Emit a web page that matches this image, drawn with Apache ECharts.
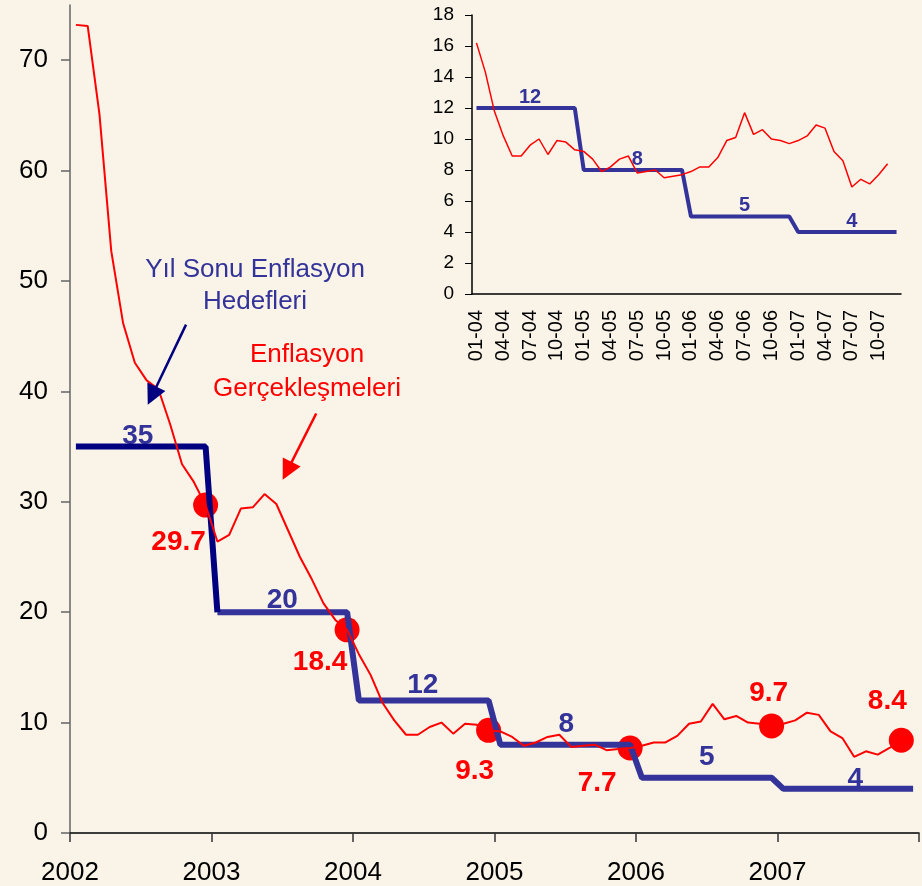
<!DOCTYPE html>
<html>
<head>
<meta charset="utf-8">
<script src="https://cdn.jsdelivr.net/npm/echarts@6/dist/echarts.min.js"></script>
<style>
html, body {margin:0; padding:0; background:#f9f3e8;}
#chart {width:922px; height:886px;}
</style>
</head>
<body>
<div id="chart"></div>
<script>
// Yıl sonu enflasyon hedefleri (%)
const targetYears = [2002, 2003, 2004, 2005, 2006, 2007];
const targets = [35, 20, 12, 8, 5, 4];

// Aylık enflasyon gerçekleşmeleri, yıllık % (Oca..Ara)
const infl2002 = [73.2, 73.1, 65.1, 52.7, 46.2, 42.6, 41.0, 40.2, 37.0, 33.4, 31.8, 29.7];
const infl2003 = [26.4, 27.0, 29.4, 29.5, 30.7, 29.8, 27.4, 25.0, 23.0, 20.8, 19.3, 18.4];
const infl2004 = [16.2, 14.3, 11.8, 10.2, 8.9, 8.9, 9.6, 10.0, 9.0, 9.9, 9.8, 9.3];
const infl2005 = [9.2, 8.7, 7.9, 8.2, 8.7, 8.9, 7.8, 7.9, 8.0, 7.5, 7.6, 7.7];
const infl2006 = [7.9, 8.2, 8.2, 8.8, 9.9, 10.1, 11.7, 10.3, 10.6, 10.0, 9.9, 9.7];
const infl2007 = [9.9, 10.2, 10.9, 10.7, 9.2, 8.6, 6.9, 7.4, 7.1, 7.7, 8.4];

// işaretlenen yıl sonu ayları (2007 için son veri Kasım)
const yearEndMonth = ['2002-12', '2003-12', '2004-12', '2005-12', '2006-12', '2007-11'];

// ana eksen etiketleri
const mainYTicks = [0, 10, 20, 30, 40, 50, 60, 70];
// küçük grafik: ay ve yıl kodları
const monthCodes = ['01', '02', '03', '04', '05', '06', '07', '08', '09', '10', '11', '12'];
const insetYearCodes = ['04', '05', '06', '07'];

const FONT = 'Liberation Sans, Arial, sans-serif';
const NAVY = '#000080', SLATE = '#333399', RED = '#ff0000';

// ---- yardımcılar
const inflation = [].concat(infl2002, infl2003, infl2004, infl2005, infl2006, infl2007);
const monthX = i => targetYears[0] + (i + 0.5) / 12;   // ay ortası
const monthlyTarget = [];
targets.forEach(t => { for (let m = 0; m < 12; m++) monthlyTarget.push(t); });
const mainRed = inflation.map((v, i) => [monthX(i), v]);
const mainBlue = monthlyTarget.map((v, i) => [monthX(i), v]);
const yearEndIdx = yearEndMonth.map(s => {
    let [y, m] = s.split('-').map(Number);
    return (y - targetYears[0]) * 12 + m - 1;
});
const yearEndPts = yearEndIdx.map(i => [monthX(i), inflation[i]]);
const targetLabelPts = targets.map((t, k) => [targetYears[k] + 0.5, t]);

const insetMonths = [];
insetYearCodes.forEach(y => monthCodes.forEach(m => insetMonths.push(m + '-' + y)));
const insetStart = 24;   // Ocak 2004
const insetRed = inflation.slice(insetStart);
const insetBlue = monthlyTarget.slice(insetStart);

// etiket kaydırmaları (piksel)
const redLabelOffset = [[-27, 37], [-27, 32], [-14, 41], [-33, 35], [-3, -33], [-14, -39]];
const blueLabelOffset = [[-3, -10], [0, -12], [-1, -15], [1, -20], [0, -21], [7, -10]];

let chart = echarts.init(document.getElementById('chart'));

let options = {
    animation: false,
    backgroundColor: '#f9f3e8',
    textStyle: {fontFamily: FONT},
    grid: [
        {left: 70, right: 3, top: 5, bottom: 52},
        {left: 472, right: 21, top: 15, bottom: 592}
    ],
    xAxis: [
        {
            type: 'value', gridIndex: 0, min: 2002, max: 2008, interval: 1,
            axisLine: {onZero: false, lineStyle: {color: '#000', width: 1.5}},
            axisTick: {length: 9, lineStyle: {color: '#333', width: 1.5}},
            axisLabel: {
                fontSize: 26, color: '#000', margin: 27, fontFamily: FONT,
                formatter: v => v >= 2008 ? '' : String(v)
            },
            splitLine: {show: false}
        },
        {
            type: 'category', gridIndex: 1, data: insetMonths, boundaryGap: true,
            axisLine: {lineStyle: {color: '#000', width: 1.5}},
            axisTick: {interval: 2, length: 6, lineStyle: {color: '#000'}},
            axisLabel: {interval: 2, rotate: 90, fontSize: 20, margin: 16, color: '#000', fontFamily: FONT},
            splitLine: {show: false}
        }
    ],
    yAxis: [
        {
            type: 'value', gridIndex: 0, min: 0, max: 75, interval: 10,
            axisLine: {show: true, lineStyle: {color: '#666', width: 1.5}},
            axisTick: {show: true, length: 9, customValues: mainYTicks, lineStyle: {color: '#666', width: 1.5}},
            axisLabel: {customValues: mainYTicks, fontSize: 26, color: '#000', margin: 22, fontFamily: FONT},
            splitLine: {show: false}
        },
        {
            type: 'value', gridIndex: 1, min: 0, max: 18, interval: 2,
            axisLine: {show: true, lineStyle: {color: '#000', width: 1.5}},
            axisTick: {show: true, length: 7, lineStyle: {color: '#000'}},
            axisLabel: {fontSize: 19, color: '#000', margin: 18, fontFamily: FONT},
            splitLine: {show: false}
        }
    ],
    graphic: [
        {
            type: 'text', x: 255, y: 286, silent: true,
            style: {
                text: 'Yıl Sonu Enflasyon\nHedefleri', fill: SLATE,
                font: '26px ' + FONT, lineHeight: 32,
                textAlign: 'center', textVerticalAlign: 'middle'
            }
        },
        {
            type: 'text', x: 307, y: 372, silent: true,
            style: {
                text: 'Enflasyon\nGerçekleşmeleri', fill: RED,
                font: '26px ' + FONT, lineHeight: 34,
                textAlign: 'center', textVerticalAlign: 'middle'
            }
        }
    ],
    series: [
        {
            name: 'Hedef', type: 'line', xAxisIndex: 0, yAxisIndex: 0,
            data: mainBlue.slice(12), showSymbol: false, silent: true,
            lineStyle: {color: SLATE, width: 6}
        },
        {
            name: 'Hedef2002', type: 'line', xAxisIndex: 0, yAxisIndex: 0,
            data: mainBlue.slice(0, 13), showSymbol: false, silent: true,
            lineStyle: {color: NAVY, width: 6},
            markLine: {
                silent: true, symbol: ['none', 'triangle'], symbolSize: 20,
                label: {show: false},
                lineStyle: {color: NAVY, width: 2.5, type: 'solid'},
                data: [[{coord: [2002.82, 46.05]}, {coord: [2002.58, 39.6]}]]
            }
        },
        {
            name: 'Enflasyon', type: 'line', xAxisIndex: 0, yAxisIndex: 0,
            data: mainRed, showSymbol: false, silent: true,
            lineStyle: {color: RED, width: 2},
            markLine: {
                silent: true, symbol: ['none', 'triangle'], symbolSize: 20,
                label: {show: false},
                lineStyle: {color: RED, width: 2.5, type: 'solid'},
                data: [[{coord: [2003.74, 38.0]}, {coord: [2003.535, 32.8]}]]
            }
        },
        {
            name: 'YılSonu', type: 'scatter', xAxisIndex: 0, yAxisIndex: 0,
            symbolSize: 25, silent: true, itemStyle: {color: RED, opacity: 1},
            data: yearEndPts.map((p, k) => ({
                value: p,
                label: {
                    show: true, position: 'inside', offset: redLabelOffset[k],
                    formatter: p[1].toFixed(1), color: RED,
                    fontSize: 28, fontWeight: 'bold', fontFamily: FONT
                }
            }))
        },
        {
            name: 'HedefEtiket', type: 'scatter', xAxisIndex: 0, yAxisIndex: 0,
            symbolSize: 0, silent: true, itemStyle: {color: SLATE},
            data: targetLabelPts.map((p, k) => ({
                value: p,
                label: {
                    show: true, position: 'inside', offset: blueLabelOffset[k],
                    formatter: String(p[1]), color: SLATE, opacity: 1,
                    textBorderWidth: 0,
                    fontSize: 28, fontWeight: 'bold', fontFamily: FONT
                }
            }))
        },
        {
            name: 'HedefInset', type: 'line', xAxisIndex: 1, yAxisIndex: 1,
            data: insetBlue, showSymbol: true, showAllSymbol: true, symbolSize: 0,
            silent: true,
            itemStyle: {color: SLATE},
            lineStyle: {color: SLATE, width: 4},
            label: {
                show: true, position: 'top', distance: 1,
                color: SLATE, fontSize: 20, fontWeight: 'bold', fontFamily: FONT,
                textBorderWidth: 0,
                formatter: p => p.dataIndex % 12 === 6 ? String(p.value) : ''
            }
        },
        {
            name: 'EnflasyonInset', type: 'line', xAxisIndex: 1, yAxisIndex: 1,
            data: insetRed, showSymbol: false, silent: true,
            lineStyle: {color: RED, width: 1.5}
        }
    ]
};
chart.setOption(options);
</script>
</body>
</html>
